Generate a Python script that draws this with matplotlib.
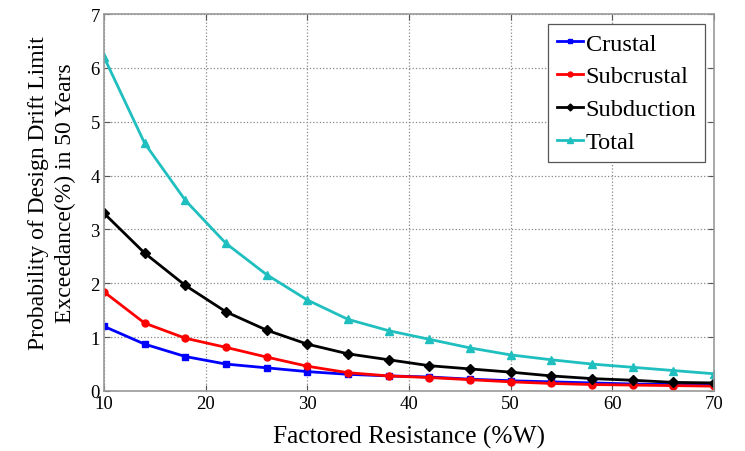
import matplotlib
matplotlib.use("Agg")
import matplotlib.pyplot as plt

plt.rcParams['font.family'] = ['Liberation Serif', 'DejaVu Serif']

x = [10, 14, 18, 22, 26, 30, 34, 38, 42, 46, 50, 54, 58, 62, 66, 70]
crustal = [1.20, 0.87, 0.64, 0.50, 0.43, 0.36, 0.31, 0.28, 0.26, 0.22, 0.19, 0.17, 0.15, 0.13, 0.12, 0.11]
subcrustal = [1.84, 1.26, 0.98, 0.81, 0.63, 0.46, 0.34, 0.28, 0.25, 0.21, 0.17, 0.14, 0.12, 0.11, 0.10, 0.09]
subduction = [3.30, 2.56, 1.96, 1.47, 1.13, 0.87, 0.69, 0.58, 0.47, 0.41, 0.35, 0.28, 0.23, 0.20, 0.16, 0.15]
total = [6.20, 4.60, 3.54, 2.74, 2.16, 1.69, 1.33, 1.12, 0.96, 0.80, 0.67, 0.58, 0.50, 0.44, 0.38, 0.32]

xticks = [10, 20, 30, 40, 50, 60, 70]
yticks = [0, 1, 2, 3, 4, 5, 6, 7]

fig = plt.figure(figsize=(7.45, 4.52), dpi=100)
ax = fig.add_axes([104/745, 1-392/452, (714-104)/745, (392-15)/452])

ax.plot(x, crustal, color='#0000ff', marker='s', markersize=5, lw=2, label='Crustal')
ax.plot(x, subcrustal, color='#ff0000', marker='o', markersize=5, lw=2, label='Subcrustal')
ax.plot(x, subduction, color='#000000', marker='D', markersize=5, lw=2, label='Subduction')
ax.plot(x, total, color='#1fbfbf', marker='^', markersize=6, lw=2, label='Total')

ax.set_xlim(10, 70)
ax.set_ylim(0, 7)
ax.set_xticks(xticks)
ax.set_yticks(yticks)
ax.tick_params(direction='in', labelsize=13.5, pad=3, color='#555555', top=True, right=True, length=4)
ax.grid(True, linestyle=':', color='#888888', lw=0.9)
for s in ax.spines.values():
    s.set_color('#999999')
    s.set_linewidth(1.2)

ax.set_xlabel('Factored Resistance (%W)', fontsize=18.3, labelpad=9)
ax.set_ylabel('Probability of Design Drift Limit\nExceedance(%) in 50 Years', fontsize=17,
              linespacing=1.35)
ax.yaxis.set_label_coords(-0.0455, 0.528)

leg = ax.legend(loc='upper right', bbox_to_anchor=(705/745, 1-25/452), bbox_transform=fig.transFigure,
                fontsize=17.5, handlelength=1.1, handletextpad=0.1, labelspacing=0.45,
                borderpad=0.35, borderaxespad=0, fancybox=False, framealpha=1, markerscale=0.7)
leg.get_frame().set_edgecolor('#555555')
leg.get_frame().set_linewidth(0.9)

fig.savefig('out.png', dpi=100)
